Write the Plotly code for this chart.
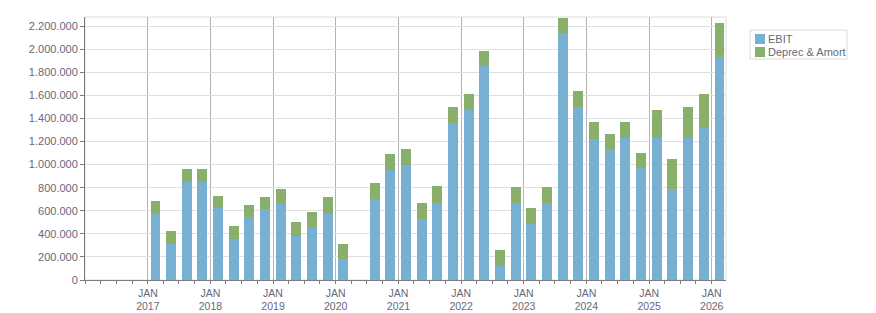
import plotly.graph_objects as go

# Quarter mid-points (Q2 2020 has no data)
quarters = [
    "2017-02-15", "2017-05-16", "2017-08-16", "2017-11-15",
    "2018-02-15", "2018-05-16", "2018-08-16", "2018-11-15",
    "2019-02-15", "2019-05-16", "2019-08-16", "2019-11-15",
    "2020-02-15", "2020-05-16", "2020-08-16", "2020-11-15",
    "2021-02-15", "2021-05-16", "2021-08-16", "2021-11-15",
    "2022-02-15", "2022-05-16", "2022-08-16", "2022-11-15",
    "2023-02-15", "2023-05-16", "2023-08-16", "2023-11-15",
    "2024-02-15", "2024-05-16", "2024-08-16", "2024-11-15",
    "2025-02-15", "2025-05-16", "2025-08-16", "2025-11-15",
    "2026-02-15",
]
ebit = [
    573000, 313000, 851000, 851000,
    625000, 353000, 544000, 614000,
    666000, 382000, 457000, 573000,
    179000, None, 701000, 955000,
    996000, 527000, 666000, 1361000,
    1476000, 1858000, 122000, 666000,
    486000, 666000, 2142000, 1499000,
    1222000, 1135000, 1233000, 973000,
    1233000, 787000, 1233000, 1320000,
    1934000,
]
deprec = [
    110000, 113000, 110000, 110000,
    102000, 113000, 104000, 104000,
    121000, 119000, 131000, 145000,
    131000, None, 139000, 136000,
    139000, 139000, 148000, 139000,
    136000, 127000, 136000, 139000,
    136000, 139000, 130000, 139000,
    148000, 130000, 136000, 127000,
    240000, 261000, 266000, 292000,
    295000,
]
series_names = ["EBIT", "Deprec & Amort"]
series_colors = ["#78b0d1", "#89b06a"]
year_ticks = ["2017-01-01", "2018-01-01", "2019-01-01", "2020-01-01", "2021-01-01",
              "2022-01-01", "2023-01-01", "2024-01-01", "2025-01-01", "2026-01-01"]
year_labels = ["JAN<br>" + d[:4] for d in year_ticks]
y_ticks = [0, 200000, 400000, 600000, 800000, 1000000, 1200000, 1400000,
           1600000, 1800000, 2000000, 2200000]

W, H = 876, 313
ML, MR, MT, MB = 85, 150, 17, 33
PW, PH = W - ML - MR, H - MT - MB


def px(x):
    return (x - ML) / PW


def py(y):
    return (H - MB - y) / PH


bar_width_ms = 58 * 86400000
text_color = "#68687a"
font_family = "Liberation Sans"

fig = go.Figure()
for name, vals, col in zip(series_names, [ebit, deprec], series_colors):
    fig.add_trace(go.Bar(x=quarters, y=vals, name=name, marker_color=col,
                         marker_line_width=0, width=bar_width_ms, showlegend=False))

shapes = [dict(type="rect", xref="paper", yref="paper", x0=0, y0=0, x1=1, y1=1,
               line=dict(color="#dcdcdc", width=1), layer="below"),
          dict(type="rect", xref="paper", yref="paper", x0=px(750), x1=px(847),
               y0=py(30), y1=py(59), line=dict(color="#dcdcdc", width=1),
               fillcolor="white")]
annotations = []
for i, (name, col) in enumerate(zip(series_names, series_colors)):
    yc = 39 + 13 * i
    shapes.append(dict(type="rect", xref="paper", yref="paper",
                       x0=px(755), x1=px(765), y0=py(yc - 5), y1=py(yc + 5),
                       line=dict(width=0), fillcolor=col))
    annotations.append(dict(text=name, xref="paper", yref="paper", x=px(766),
                            y=py(yc), xanchor="left", yanchor="middle", showarrow=False,
                            font=dict(family=font_family, size=11, color=text_color)))

fig.update_layout(
    barmode="stack",
    width=W, height=H,
    margin=dict(l=ML, r=MR, t=MT, b=MB),
    plot_bgcolor="white", paper_bgcolor="white",
    separators=",.",
    font=dict(family=font_family, size=11, color=text_color),
    showlegend=False,
    shapes=shapes,
    annotations=annotations,
)
fig.update_xaxes(
    type="date", automargin=False,
    range=["2016-01-01", "2026-03-25"],
    tickvals=year_ticks, ticktext=year_labels,
    ticks="outside", ticklen=3, tickcolor="#7a7a7a",
    showgrid=True, gridcolor="#b4b4b4", gridwidth=1,
    showline=True, linecolor="#7a7a7a", linewidth=1,
    minor=dict(dtick="M3", tick0="2016-01-01", ticks="outside", ticklen=3,
               tickcolor="#7a7a7a", showgrid=False),
    tickfont=dict(family=font_family, size=10.5, color=text_color),
)
fig.update_yaxes(
    automargin=False,
    range=[0, 2279000],
    tickvals=y_ticks, tickformat=",d",
    ticks="outside", ticklen=4, tickcolor="#7a7a7a",
    showgrid=True, gridcolor="#e0e0e0", gridwidth=1,
    showline=True, linecolor="#7a7a7a", linewidth=1,
    zeroline=False,
    tickfont=dict(family=font_family, size=11, color=text_color),
)

fig.write_html("out.html")
